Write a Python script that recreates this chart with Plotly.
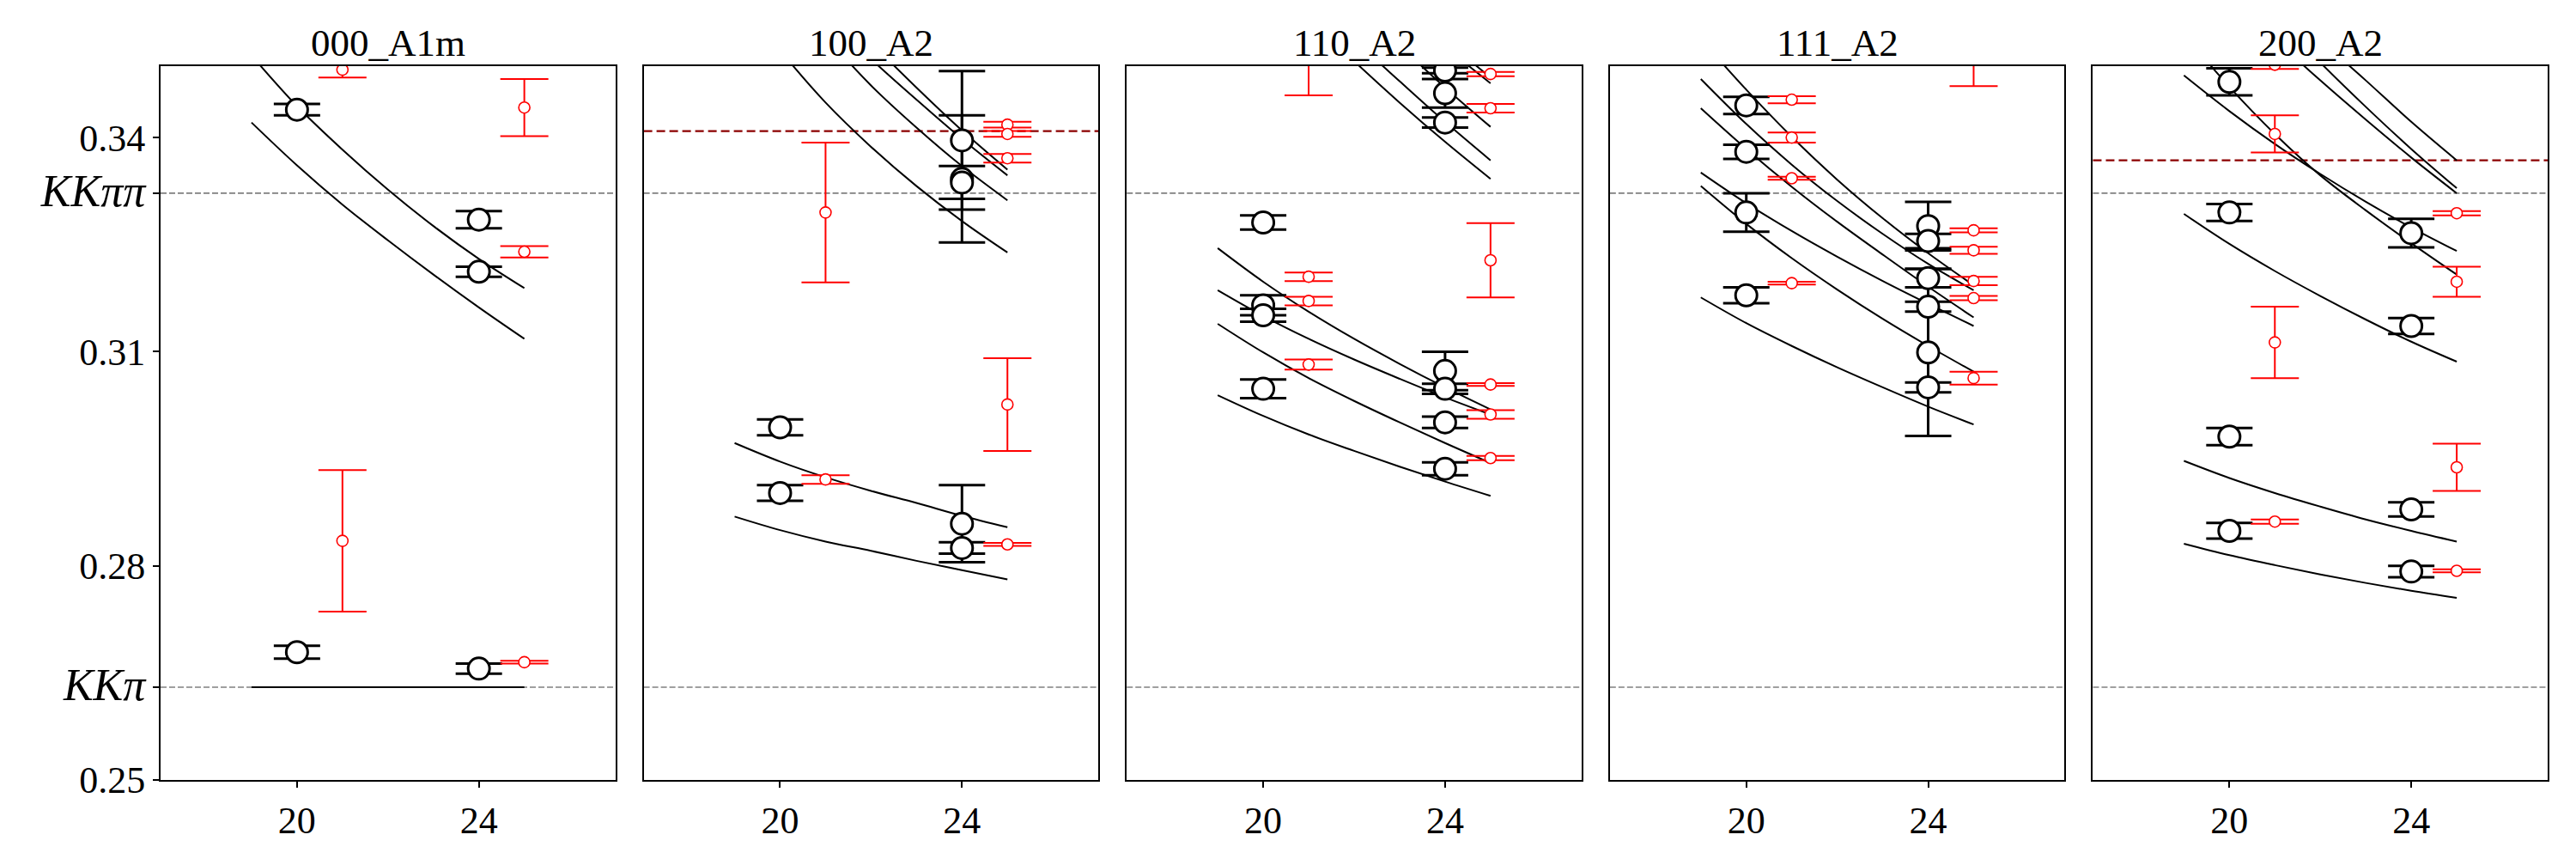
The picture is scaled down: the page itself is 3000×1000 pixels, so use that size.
import plotly.graph_objects as go
from plotly.subplots import make_subplots

FONT = 'Liberation Serif'

# thresholds (lattice units)
KKPI = 0.2630
KKPIPI = 0.3322

TITLES = ['000_A1m', '100_A2', '110_A2', '111_A2', '200_A2']
L_CURVE = [19, 20, 21, 22, 23, 24, 25]

# --- 000_A1m
a1m_black_L = [20, 20, 24, 24, 24]
a1m_black_E = [0.3439, 0.2679, 0.3285, 0.3212, 0.2656]
a1m_black_dE = [0.0008, 0.0009, 0.0012, 0.0007, 0.0007]
a1m_red_L = [21, 21, 25, 25, 25]
a1m_red_E = [0.3495, 0.2835, 0.3442, 0.3240, 0.2665]
a1m_red_dE = [0.0011, 0.0099, 0.0040, 0.0008, 0.0002]
a1m_curves = [
    [0.3515, 0.3444, 0.3383, 0.3327, 0.3276, 0.3230, 0.3189],
    [0.3421, 0.3361, 0.3306, 0.3256, 0.3208, 0.3162, 0.3118],
    [0.2630, 0.2630, 0.2630, 0.2630, 0.2630, 0.2630, 0.2630],
]

# --- 100_A2
p100_black_L = [20, 20, 24, 24, 24, 24, 24]
p100_black_E = [0.2994, 0.2902, 0.3396, 0.3342, 0.3337, 0.2859, 0.2825]
p100_black_dE = [0.0011, 0.0011, 0.0097, 0.0089, 0.0023, 0.0054, 0.0008]
p100_red_L = [21, 21, 25, 25, 25, 25, 25]
p100_red_E = [0.3295, 0.2921, 0.3418, 0.3405, 0.3371, 0.3026, 0.2830]
p100_red_dE = [0.0098, 0.0006, 0.0004, 0.0004, 0.0006, 0.0065, 0.0002]
p100_curves = [
    [0.3602, 0.3522, 0.3449, 0.3387, 0.3332, 0.3283, 0.3239],
    [0.3700, 0.3618, 0.3542, 0.3473, 0.3414, 0.3360, 0.3312],
    [0.3712, 0.3640, 0.3572, 0.3510, 0.3453, 0.3398, 0.3347],
    [0.3750, 0.3672, 0.3600, 0.3533, 0.3470, 0.3410, 0.3355],
    [0.2972, 0.2946, 0.2924, 0.2905, 0.2888, 0.2870, 0.2854],
    [0.2869, 0.2850, 0.2834, 0.2821, 0.2807, 0.2794, 0.2781],
]
p100_ref = 0.3409

# --- 110_A2
p110_black_L = [20, 20, 20, 20, 24, 24, 24, 24, 24, 24, 24]
p110_black_E = [0.3281, 0.3165, 0.3151, 0.3048, 0.3494, 0.3462, 0.3421,
                0.3073, 0.3048, 0.3001, 0.2936]
p110_black_dE = [0.0010, 0.0014, 0.0009, 0.0013, 0.0004, 0.0020, 0.0007,
                 0.0027, 0.0007, 0.0008, 0.0009]
p110_red_L = [21, 21, 21, 21, 25, 25, 25, 25, 25, 25]
p110_red_E = [0.3525, 0.3205, 0.3171, 0.3082, 0.3489, 0.3441, 0.3228,
              0.3054, 0.3012, 0.2951]
p110_red_dE = [0.0066, 0.0006, 0.0006, 0.0007, 0.0003, 0.0006, 0.0052,
               0.0002, 0.0006, 0.0003]
p110_curves = [
    [0.3702, 0.3633, 0.3568, 0.3507, 0.3449, 0.3394, 0.3342],
    [0.3735, 0.3665, 0.3599, 0.3537, 0.3479, 0.3422, 0.3368],
    [None, None, 0.3655, 0.3590, 0.3529, 0.3470, 0.3415],
    [None, None, None, None, 0.3580, 0.3527, 0.3476],
    [None, None, None, None, 0.3592, 0.3537, 0.3484],
    [0.3245, 0.3198, 0.3156, 0.3118, 0.3083, 0.3050, 0.3019],
    [0.3186, 0.3150, 0.3118, 0.3089, 0.3062, 0.3036, 0.3012],
    [0.3139, 0.3099, 0.3063, 0.3031, 0.3001, 0.2972, 0.2944],
    [0.3039, 0.3010, 0.2984, 0.2961, 0.2939, 0.2918, 0.2898],
]

# --- 111_A2
p111_black_L = [20, 20, 20, 20, 24, 24, 24, 24, 24, 24]
p111_black_E = [0.3445, 0.3380, 0.3295, 0.3179, 0.3276, 0.3255, 0.3203,
                0.3163, 0.3099, 0.3050]
p111_black_dE = [0.0012, 0.0010, 0.0027, 0.0011, 0.0034, 0.0010, 0.0013,
                 0.0007, 0.0117, 0.0007]
p111_red_L = [21, 21, 21, 21, 25, 25, 25, 25, 25, 25]
p111_red_E = [0.3453, 0.3400, 0.3343, 0.3196, 0.3555, 0.3270, 0.3242,
              0.3199, 0.3175, 0.3063]
p111_red_dE = [0.0005, 0.0007, 0.0002, 0.0002, 0.0083, 0.0003, 0.0005,
               0.0006, 0.0003, 0.0009]
p111_curves = [
    [0.3538, 0.3467, 0.3401, 0.3341, 0.3287, 0.3238, 0.3193],
    [0.3482, 0.3419, 0.3362, 0.3311, 0.3265, 0.3223, 0.3186],
    [0.3441, 0.3384, 0.3331, 0.3282, 0.3236, 0.3191, 0.3148],
    [0.3351, 0.3308, 0.3269, 0.3233, 0.3199, 0.3167, 0.3136],
    [0.3332, 0.3279, 0.3231, 0.3187, 0.3146, 0.3108, 0.3072],
    [0.3176, 0.3140, 0.3108, 0.3078, 0.3050, 0.3023, 0.2998],
]

# --- 200_A2
p200_black_L = [20, 20, 20, 20, 24, 24, 24, 24]
p200_black_E = [0.3478, 0.3295, 0.2981, 0.2849, 0.3266, 0.3136, 0.2879, 0.2792]
p200_black_dE = [0.0019, 0.0012, 0.0012, 0.0011, 0.0020, 0.0011, 0.0010, 0.0008]
p200_red_L = [21, 21, 21, 21, 25, 25, 25, 25]
p200_red_E = [0.3502, 0.3405, 0.3113, 0.2862, 0.3294, 0.3198, 0.2938, 0.2793]
p200_red_dE = [0.0006, 0.0026, 0.0050, 0.0003, 0.0003, 0.0021, 0.0033, 0.0002]
p200_curves = [
    [0.3545, 0.3471, 0.3405, 0.3347, 0.3298, 0.3252, 0.3208],
    [0.3487, 0.3437, 0.3391, 0.3349, 0.3310, 0.3274, 0.3241],
    [0.3666, 0.3600, 0.3538, 0.3480, 0.3425, 0.3372, 0.3322],
    [None, 0.3641, 0.3571, 0.3505, 0.3443, 0.3384, 0.3329],
    [None, None, 0.3600, 0.3537, 0.3480, 0.3422, 0.3368],
    [0.3293, 0.3251, 0.3213, 0.3178, 0.3145, 0.3114, 0.3086],
    [0.2947, 0.2923, 0.2902, 0.2883, 0.2865, 0.2849, 0.2834],
    [0.2831, 0.2815, 0.2801, 0.2788, 0.2776, 0.2765, 0.2755],
]
p200_ref = 0.3368

panels = [
    (a1m_black_L, a1m_black_E, a1m_black_dE, a1m_red_L, a1m_red_E, a1m_red_dE, a1m_curves, None),
    (p100_black_L, p100_black_E, p100_black_dE, p100_red_L, p100_red_E, p100_red_dE, p100_curves, p100_ref),
    (p110_black_L, p110_black_E, p110_black_dE, p110_red_L, p110_red_E, p110_red_dE, p110_curves, None),
    (p111_black_L, p111_black_E, p111_black_dE, p111_red_L, p111_red_E, p111_red_dE, p111_curves, None),
    (p200_black_L, p200_black_E, p200_black_dE, p200_red_L, p200_red_E, p200_red_dE, p200_curves, p200_ref),
]

fig = make_subplots(rows=1, cols=5, subplot_titles=TITLES, horizontal_spacing=0.0119)

for col, (bL, bE, bdE, rL, rE, rdE, curves, ref) in enumerate(panels, start=1):
    for c in curves:
        fig.add_trace(go.Scatter(
            x=L_CURVE, y=c, mode='lines',
            line=dict(color='black', width=2, shape='spline'),
            showlegend=False, hoverinfo='skip'), row=1, col=col)
    fig.add_trace(go.Scatter(
        x=bL, y=bE, mode='markers',
        error_y=dict(type='data', array=bdE, color='black', thickness=3, width=27),
        marker=dict(symbol='circle', size=25, color='white',
                    line=dict(color='black', width=3)),
        showlegend=False), row=1, col=col)
    fig.add_trace(go.Scatter(
        x=rL, y=rE, mode='markers',
        error_y=dict(type='data', array=rdE, color='red', thickness=2, width=28),
        marker=dict(symbol='circle', size=13, color='white',
                    line=dict(color='red', width=1.6)),
        showlegend=False), row=1, col=col)

    for thr in (KKPI, KKPIPI):
        fig.add_hline(y=thr, line=dict(color='#808080', width=1.6, dash='7px,3px'),
                      layer='below', row=1, col=col)
    if ref is not None:
        fig.add_hline(y=ref, line=dict(color='#8b0000', width=2.2, dash='10px,5px'),
                      layer='below', row=1, col=col)

big = '<span style="font-size:52px"><i>%s</i></span>'

fig.update_xaxes(range=[17, 27], tickvals=[20, 24], ticks='outside', ticklen=7,
                 tickwidth=1.5, tickcolor='black', showline=True, mirror=True,
                 linecolor='black', linewidth=1.8, showgrid=False, zeroline=False,
                 tickfont=dict(family=FONT, size=44, color='black'))
fig.update_yaxes(range=[0.25, 0.35], showline=True, mirror=True, linecolor='black',
                 linewidth=1.8, showgrid=False, zeroline=False,
                 showticklabels=False, ticks='')
fig.update_yaxes(tickvals=[0.25, 0.28, 0.31, 0.34, KKPI, KKPIPI],
                 ticktext=['0.25', '0.28', '0.31', '0.34', big % 'KKπ', big % 'KKππ'],
                 showticklabels=True, ticks='outside', ticklen=7, tickwidth=1.5,
                 tickcolor='black',
                 tickfont=dict(family=FONT, size=44, color='black'), row=1, col=1)

fig.update_annotations(font=dict(family=FONT, size=45, color='black'))

# page body has an 8px margin, so the figure is a little smaller than the window
fig.update_layout(
    width=2984, height=984,
    margin=dict(l=179, r=25, t=69, b=78),
    plot_bgcolor='white', paper_bgcolor='white',
    font=dict(family=FONT, color='black'),
)

fig.write_html('out.html')
